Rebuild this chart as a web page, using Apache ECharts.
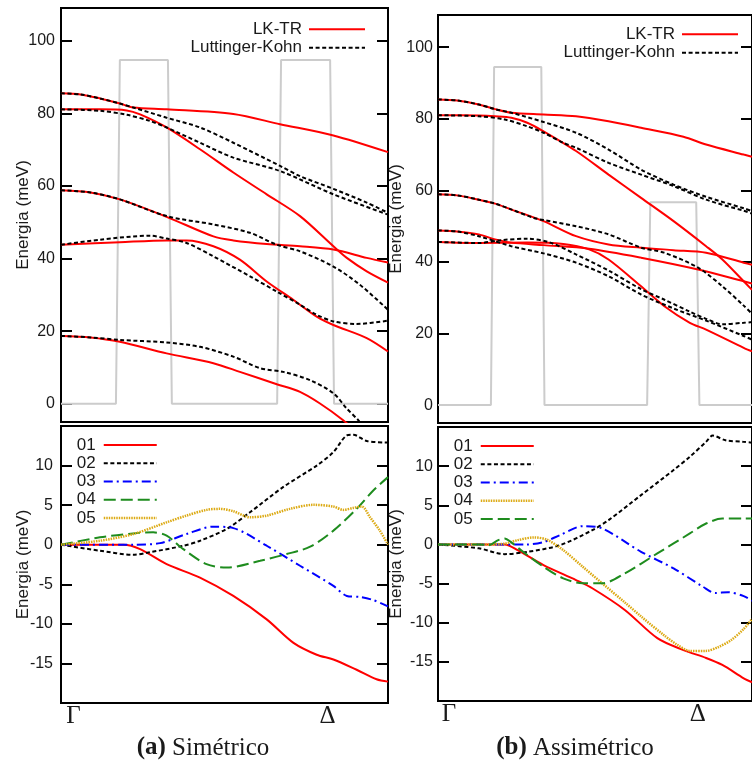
<!DOCTYPE html>
<html><head><meta charset="utf-8">
<script src="https://cdn.jsdelivr.net/npm/echarts@6/dist/echarts.min.js"></script>
<style>html,body{margin:0;padding:0;background:#fff}#c{width:752px;height:764px}</style>
</head><body><div id="c"></div><script>
// ---- axis ticks / labels ----
const kTicks = [0, 81.5];
const kLabels = ['Γ', 'Δ'];
const eTicksTop = [0, 20, 40, 60, 80, 100];
const eTicksBot = [-15, -10, -5, 0, 5, 10];

// ---- (a) Simétrico: band structure ----
const potA = [[0,0],[16.8,0],[18.0,94.7],[32.7,94.7],[33.9,0],[66.1,0],[67.3,94.7],[82.3,94.7],[83.5,0],[100,0]];
const lktrA = [
 [[0,85.5],[6,85.2],[11.9,84.1],[18,82.7],[22.1,81.6],[32.3,81.1],[52.7,79.8],[67,77.0],[83.3,73.9],[100,69.3]],
 [[0,81.1],[11.9,81.1],[20.1,80.8],[24.2,79.7],[32.3,76.1],[42.5,70.1],[52.7,63.7],[62.9,57.7],[73.1,51.7],[83.3,43.4],[87.4,40.2],[93.5,36.5],[100,33.4]],
 [[0,58.8],[9,58.2],[18,56.3],[32.3,51.5],[46.6,46.1],[52.7,45],[62.9,44],[73.1,43.4],[83.3,42.5],[93.5,40.2],[100,38.9]],
 [[0,43.8],[18,44.5],[32.3,45],[38.4,45],[46.6,43.4],[54.7,39.7],[62.9,33.7],[71.1,28.6],[78.2,24],[83.3,21.7],[93.5,18.1],[100,14.4]],
 [[0,18.7],[9,18.3],[18,17.1],[32.3,13.9],[46.6,11.2],[54.7,8.8],[66,5.4],[73.1,3.3],[79.2,0.1],[86.3,-4.5],[92,-9]]
];
const lkA = [
 [[0,85.5],[6,85.2],[11.9,84.1],[18,82.7],[22.1,81.6],[32.3,78.8],[42.5,76.1],[52.7,71.9],[67,65.5],[73.1,62.7],[83.3,59.2],[93.5,55.4],[100,52.6]],
 [[0,81.1],[11.9,80.7],[20.1,79.6],[27.2,77.9],[32.3,76.1],[42.5,71.9],[52.7,67.8],[67,64.1],[83.3,57.7],[100,52.1]],
 [[0,58.8],[9,58.2],[18,56.3],[32.3,51.7],[46.6,49.4],[57.8,47.1],[66,43.8],[73.1,42],[83.3,37.8],[91.4,32.8],[100,25.9]],
 [[0,43.8],[11.9,45.2],[27.2,46.3],[32.3,45.5],[38.4,44.3],[46.6,40.6],[57.8,35.1],[66,30.9],[73.1,27.3],[78.2,24.5],[83.3,22.7],[90.4,22],[100,22.9]],
 [[0,18.7],[9,18.3],[18,17.6],[32.3,16.9],[42.5,15.7],[52.7,13],[60.9,9.8],[68,8.8],[76.2,6.5],[83.3,2.9],[87.4,-1.3],[90.9,-4.5],[94,-8]]
];

// ---- (b) Assimétrico: band structure ----
const potB = [[0,0],[16.6,0],[17.6,94.5],[32.4,94.5],[33.4,0],[65.6,0],[66.6,56.7],[81.0,56.7],[82.0,0],[98.5,0]];
const lktrB = [
 [[0,85.4],[6,85.1],[12.8,84],[17.9,82.7],[23,81.7],[33.1,81.2],[43.3,80.7],[53.5,79.3],[63.7,77.5],[77,75],[84.1,72.8],[95.9,70],[98.5,69.4]],
 [[0,81],[12.8,80.9],[17.9,80.7],[23,80.3],[28,78.9],[33.1,76.5],[43.3,71],[53.5,64.4],[63.7,57.9],[73.9,51.4],[84.1,44.4],[89.2,40.7],[95.9,34.6],[98.5,32.2]],
 [[0,58.9],[6,58.6],[12.8,57.4],[17.9,56.3],[22.9,54.7],[33.1,51.4],[43.3,47.2],[53.5,44.9],[63.7,44],[73.9,43.3],[84.1,42.6],[95.9,39.8],[98.5,39.2]],
 [[0,48.8],[6,48.5],[12.8,47.7],[17.9,46.3],[23,45.4],[33.1,44.7],[47.4,43.7],[63.7,41.2],[81.6,37.9],[95.9,34.6],[98.5,34]],
 [[0,45.6],[12.8,45.3],[28,45.4],[39.3,45],[47.4,43.5],[53.5,40.7],[63.7,33.2],[70.9,27.7],[79,23],[84.1,21.1],[95.9,16],[98.5,15]]
];
const lkB = [
 [[0,85.4],[6,85.1],[12.8,84],[17.9,82.7],[23,81.7],[33.1,79.1],[43.3,76.1],[53.5,71.4],[63.7,65.8],[73.9,61.6],[84.1,58.2],[95.9,55],[98.5,54.2]],
 [[0,81],[12.8,80.7],[20.9,79.8],[28,77.9],[33.1,76.1],[39.3,73.3],[43.3,71.9],[53.5,67.7],[63.7,64.4],[73.9,61.2],[84.1,57.4],[95.9,54.3],[98.5,53.5]],
 [[0,58.9],[6,58.6],[12.8,57.4],[17.9,56.3],[22.9,54.7],[30.1,52.3],[33.1,51.7],[43.3,50],[53.5,47.7],[63.7,44],[70.9,42.6],[81.6,38.4],[89.2,33.2],[95.9,27.8],[98.5,25.5]],
 [[0,48.8],[6,48.5],[12.8,47.2],[23,44.4],[33.1,42.4],[43.3,39.8],[53.5,36],[63.7,30.9],[73.9,27],[84.1,23.6],[95.9,19.3],[98.5,18.3]],
 [[0,45.6],[12.8,45.3],[19.9,46.1],[28,46.5],[35.2,45.4],[43.3,42.1],[53.5,37.6],[63.7,32.4],[70.9,29.5],[79,26.1],[84.1,24.1],[89.2,22.6],[95.9,23],[98.5,23.2]]
];

// ---- (a) differences ----
const dA01 = [[0,0],[12,0],[19.1,0],[24.2,-0.55],[32.3,-2.45],[42.5,-4.15],[52.7,-6.47],[62.9,-9.43],[71.1,-12.4],[78.2,-13.9],[83.3,-14.5],[90.4,-15.8],[96.5,-17],[100,-17.3]];
const dA02 = [[0,0],[11.9,-0.76],[22.1,-1.27],[27.2,-0.95],[37.4,-0.13],[42.5,0.5],[50.7,2],[57.8,4.1],[68,7.3],[78.2,10],[83.3,11.7],[87.4,13.8],[89.4,13.9],[93.5,13.1],[100,12.9]];
const dA03 = [[0,0],[22.1,0],[30.3,0.2],[38.4,1.35],[46.6,2.28],[52.7,2.1],[62.9,-0.13],[73.1,-2.66],[83.3,-5.2],[87.4,-6.47],[91.4,-6.6],[95.5,-7],[100,-7.8]];
const dA04 = [[0,0],[11.9,0.93],[22.1,1.43],[28.2,1.56],[32.3,1.14],[37.4,-0.55],[44.5,-2.45],[50.7,-2.88],[60.9,-2.03],[69,-1.18],[76.2,-0.25],[83.3,1.78],[90.4,4.53],[95.5,6.85],[100,8.54]];
const dA05 = [[0,0],[11.9,0.5],[22.1,1.35],[32.3,2.83],[38.4,3.68],[44.5,4.4],[48.6,4.53],[52.7,4.23],[57.8,3.47],[62.9,3.68],[70,4.53],[77.2,5.04],[83.3,4.82],[86.3,4.4],[89.4,4.65],[92,4.82],[94.5,3.47],[97.5,1.78],[100,0]];

// ---- (b) differences ----
const dB01 = [[0,0],[20.9,0],[25,-0.73],[33.1,-2.64],[43.3,-4.55],[48.4,-5.6],[58.6,-8.37],[68.8,-11.97],[77,-13.5],[84.1,-14.5],[89.2,-15.4],[95.9,-17.1],[98.5,-17.6]];
const dB02 = [[0,0],[12.8,-0.5],[20.9,-1.24],[28,-0.95],[38.2,-0.1],[48.4,1.82],[53.5,3.1],[63.7,6.3],[73.9,9.5],[79,11.2],[84.1,13.1],[86.2,13.9],[90.2,13.3],[95.9,13.1],[98.5,13]];
const dB03 = [[0,0],[28,0],[33.1,0.3],[38.2,1.18],[45.4,2.33],[51.5,2.04],[63.7,-0.94],[73.9,-3.06],[83.1,-5.4],[87,-6.2],[91,-6.1],[95.9,-6.6],[98.5,-7.2]];
const dB04 = [[0,0],[14.8,0],[21,0.1],[25,0.55],[30.1,0.89],[34.2,0.6],[39.3,-0.73],[45.4,-2.85],[51.5,-4.97],[58.6,-7.4],[63.7,-9.2],[70.9,-11.6],[75,-12.8],[79,-13.6],[84,-13.6],[88,-13.1],[92,-12.2],[95.9,-10.8],[98.5,-9.5]];
const dB05 = [[0,0],[12.8,0],[15.8,-0.1],[18.9,0.55],[20.9,0.76],[22.9,0.3],[26,-0.73],[33.1,-2.85],[39.3,-4.33],[45.4,-4.97],[51.5,-4.97],[58.6,-3.7],[68.8,-1.15],[79,1.4],[84.1,2.67],[89.2,3.3],[95.9,3.3],[98.5,3.3]];

// ---- styles ----
const SANS = "'Liberation Sans', Arial, sans-serif";
const SERIF = "'Liberation Serif', 'Times New Roman', serif";
const TXT = '#1a1a1a';
const ST = {
  red:   {color:'#ff0000', width:2, type:'solid'},
  blackD:{color:'#000000', width:2, type:[4,2.6]},
  blue:  {color:'#0000ff', width:2, type:[9,4,2,4]},
  green: {color:'#1e8c1e', width:2, type:[12,5]},
  gold:  {color:'#dcaa14', width:2.5, type:[1.5,1]},
  gray:  {color:'#cccccc', width:2, type:'solid'}
};

const chart = echarts.init(document.getElementById('c'), null, {renderer:'canvas'});

const grids = [
  {left:61, top:8, width:327, height:414},
  {left:61, top:426, width:327, height:277},
  {left:438, top:15, width:322, height:408},
  {left:438, top:427, width:322, height:274}
].map(g => Object.assign(g, {show:true, borderColor:'#000', borderWidth:2, backgroundColor:'transparent', containLabel:false}));

const xMax = [100, 100, 98.5, 98.5];
const xAxes = grids.map((g, i) => ({
  type:'value', gridIndex:i, min:0, max:xMax[i],
  axisLine:{show:false}, axisTick:{show:false}, splitLine:{show:false},
  axisLabel:{
    show: (i === 1 || i === 3), customValues:kTicks, margin:1,
    fontFamily:SERIF, fontSize:25, color:TXT,
    formatter:(v) => { const l = kLabels[kTicks.indexOf(v)]; return v === 0 ? '{g|' + l + '}' : l; },
    rich:{ g:{ padding:[0,0,0,(i===1?25:22)], fontFamily:SERIF, fontSize:25, color:TXT } }
  }
}));

const yRange = [[-5,109],[-20,15],[-5,109],[-20,15]];
const yTicks = [eTicksTop, eTicksBot, eTicksTop, eTicksBot];
const nameGaps = [29, 29, 33, 33];
const labMargins = [6, 8, 5, 5];
const yAxes = [];
grids.forEach((g, i) => {
  yAxes.push({
    type:'value', gridIndex:i, position:'left', min:yRange[i][0], max:yRange[i][1],
    name:'Energia (meV)', nameLocation:'middle', nameGap:nameGaps[i], nameMoveOverlap:false,
    nameTextStyle:{fontFamily:SANS, fontSize:17, color:TXT},
    axisLine:{show:false}, splitLine:{show:false},
    axisTick:{show:true, inside:true, length:11, customValues:yTicks[i], lineStyle:{color:'#000', width:2}},
    axisLabel:{show:true, customValues:yTicks[i], margin:labMargins[i], fontFamily:SANS, fontSize:16, color:TXT,
      formatter:(v) => String(v)}
  });
  yAxes.push({
    type:'value', gridIndex:i, position:'right', min:yRange[i][0], max:yRange[i][1],
    axisLine:{show:false}, splitLine:{show:false}, axisLabel:{show:false},
    axisTick:{show:true, inside:true, length:11, customValues:yTicks[i], lineStyle:{color:'#000', width:2}}
  });
});

const series = [];
function addLine(name, data, gi, st, z) {
  series.push({
    type:'line', name:name, data:data, xAxisIndex:gi, yAxisIndex:gi*2,
    smooth: (st === ST.gray ? false : 0.3), symbol:'none', showSymbol:false,
    lineStyle:{color:st.color, width:st.width, type:st.type}, z:z, clip:true,
    silent:true, animation:false
  });
}
// (a) top
addLine('perfil', potA, 0, ST.gray, 1);
lktrA.forEach(c => addLine('LK-TR', c, 0, ST.red, 2));
lkA.forEach(c => addLine('Luttinger-Kohn', c, 0, ST.blackD, 3));
// (b) top
addLine('b:perfil', potB, 2, ST.gray, 1);
lktrB.forEach(c => addLine('b:LK-TR', c, 2, ST.red, 2));
lkB.forEach(c => addLine('b:Luttinger-Kohn', c, 2, ST.blackD, 3));
// (a) bottom
addLine('01', dA01, 1, ST.red, 2);
addLine('02', dA02, 1, ST.blackD, 3);
addLine('03', dA03, 1, ST.blue, 4);
addLine('04', dA04, 1, ST.green, 5);
addLine('05', dA05, 1, ST.gold, 6);
// (b) bottom
addLine('b:01', dB01, 3, ST.red, 2);
addLine('b:02', dB02, 3, ST.blackD, 3);
addLine('b:03', dB03, 3, ST.blue, 4);
addLine('b:04', dB04, 3, ST.gold, 5);
addLine('b:05', dB05, 3, ST.green, 6);

function legItem(name, st) {
  return {name:name, itemStyle:{opacity:0}, lineStyle:{color:st.color, width:st.width, type:st.type, opacity:1}};
}
function legend(pos, items, lh, pad, iw) {
  return Object.assign({
    orient:'vertical', align:'right', itemWidth:iw, itemHeight:10, itemGap:0, padding:0,
    selectedMode:false, formatter:(n) => n.replace(/^b:/, ''),
    textStyle:{fontFamily:SANS, fontSize:17, color:TXT, lineHeight:lh, padding:[0,pad,0,0]},
    data:items
  }, pos);
}
const legends = [
  legend({right:386, top:20}, [legItem('LK-TR', ST.red), legItem('Luttinger-Kohn', ST.blackD)], 18.5, 2, 56),
  legend({right:13, top:25}, [legItem('b:LK-TR', ST.red), legItem('b:Luttinger-Kohn', ST.blackD)], 18.5, 2, 56),
  legend({right:594, top:436}, [legItem('01', ST.red), legItem('02', ST.blackD), legItem('03', ST.blue), legItem('04', ST.green), legItem('05', ST.gold)], 18.2, 3, 53),
  legend({right:217, top:437}, [legItem('b:01', ST.red), legItem('b:02', ST.blackD), legItem('b:03', ST.blue), legItem('b:04', ST.gold), legItem('b:05', ST.green)], 18.2, 3, 53)
];

chart.setOption({
  animation:false,
  backgroundColor:'#fff',
  grid:grids, xAxis:xAxes, yAxis:yAxes, series:series, legend:legends,
  graphic:[
    {type:'text', x:203, y:748, style:{text:'{b|(a)} Simétrico', font:'25px ' + SERIF, fill:TXT,
      align:'center', verticalAlign:'middle', textAlign:'center', textVerticalAlign:'middle',
      rich:{b:{fontWeight:'bold', fontFamily:SERIF, fontSize:25, fill:TXT, color:TXT}}}},
    {type:'text', x:575, y:748, style:{text:'{b|(b)} Assimétrico', font:'25px ' + SERIF, fill:TXT,
      align:'center', verticalAlign:'middle', textAlign:'center', textVerticalAlign:'middle',
      rich:{b:{fontWeight:'bold', fontFamily:SERIF, fontSize:25, fill:TXT, color:TXT}}}}
  ]
});
</script></body></html>
